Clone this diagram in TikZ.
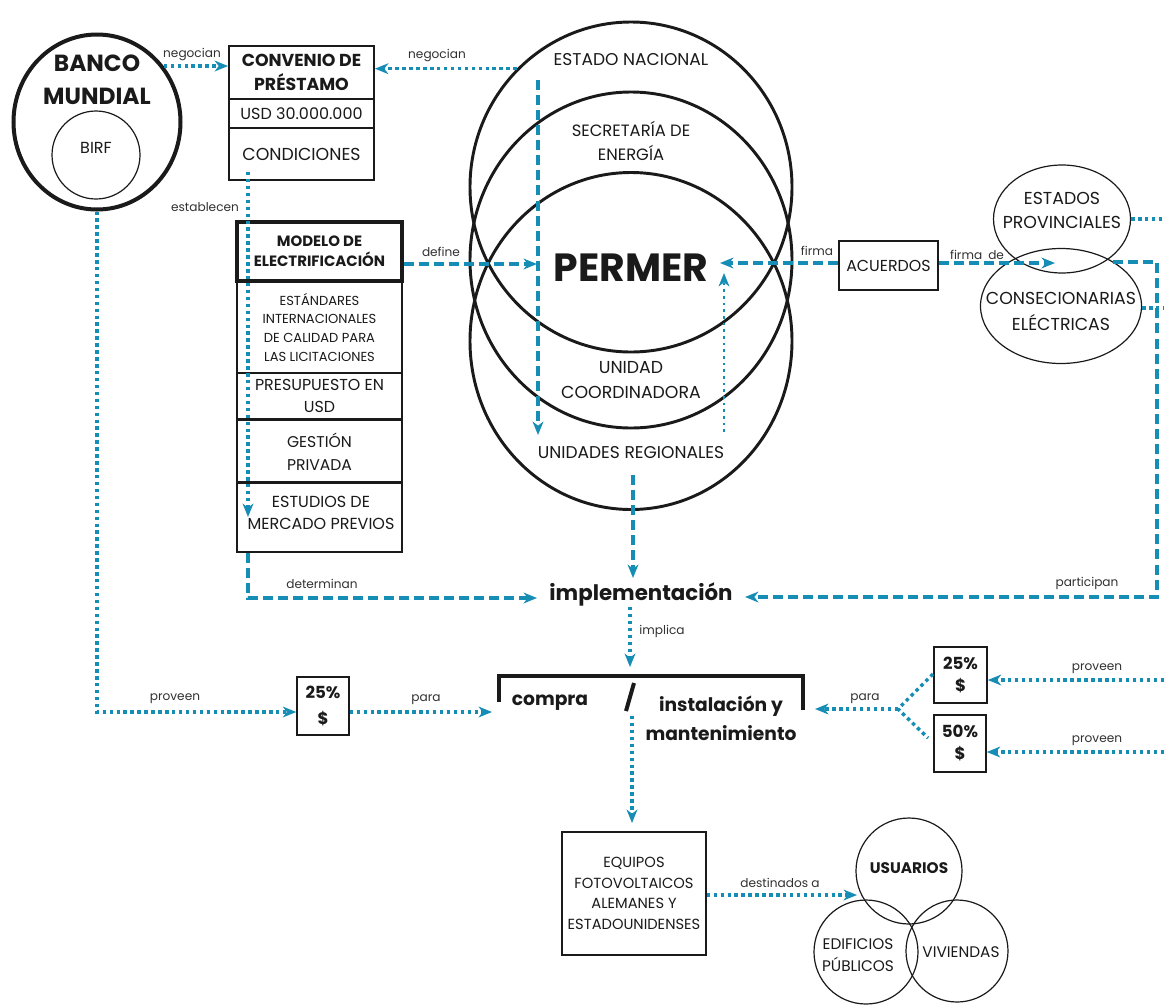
\documentclass[tikz,border=0pt]{standalone}
\usepackage{fontspec}
\setmainfont{Poppins}
\usetikzlibrary{arrows.meta,shapes.geometric}
\definecolor{conn}{HTML}{168DB4}
\definecolor{ink}{HTML}{1A1A1A}
\newcommand{\fsz}[2]{\fontsize{#1pt}{#2pt}\selectfont}
\tikzset{
 every node/.style={text=ink, inner sep=0pt},
 box/.style={draw=ink, line width=1.1pt, align=center, inner sep=0pt, minimum width=123.75pt},
 cbox/.style={draw=ink, line width=1.1pt, align=center, inner sep=0pt, minimum width=108.75pt},
 pbox/.style={draw=ink, line width=1.1pt, align=center, inner sep=0pt, font=\fsz{12}{18}\bfseries},
 lbl/.style={font=\fsz{9.1}{10}, text=ink!90},
 txt/.style={align=center, font=\fsz{12.8}{18}},
 bigell/.style={ellipse, draw=ink, line width=2.2pt, minimum width=241.5pt},
 thinell/.style={ellipse, draw=ink, line width=0.9pt},
 thincirc/.style={circle, draw=ink, line width=0.9pt},
 dotl/.style={draw=conn, line width=2.6pt, dash pattern=on 2.6pt off 2.6pt},
 finedot/.style={draw=conn, line width=2pt, dash pattern=on 2pt off 3pt},
 dashl/.style={draw=conn, line width=2.8pt, dash pattern=on 7.5pt off 3.8pt},
 arr/.style={-{Stealth[length=10pt,width=8pt,inset=3pt]}},
}
\begin{document}
\begin{tikzpicture}[x=0.75pt,y=-0.75pt]
\fill[white] (0,0) rectangle (1164,1004);
\useasboundingbox (0,0) rectangle (1164,1004);

% ---------- Banco Mundial
\node[ellipse, draw=ink, line width=3pt, minimum width=125.25pt, minimum height=131.25pt] (banco) at (97,122) {};
\node[align=center, font=\fsz{17.5}{24.75}\bfseries] (bancoT) at (97,80) {BANCO\\MUNDIAL};
\node[thincirc, minimum size=66pt] (birf) at (96,155) {};
\node[font=\fsz{12}{13}] (birfT) at (96,148) {BIRF};

% ---------- Convenio
\node[cbox, line width=1.4pt, minimum height=39.75pt, font=\fsz{13}{18}\bfseries] (conv1) at (301.5,72.5) {CONVENIO DE\\PRÉSTAMO};
\node[cbox, line width=1.4pt, minimum height=21.75pt, font=\fsz{12}{13}] (conv2) at (301.5,113.5) {USD 30.000.000};
\node[cbox, line width=1.4pt, minimum height=39pt, font=\fsz{13}{14}] (conv3) at (301.5,154) {CONDICIONES};

% ---------- Modelo stack
\node[box, line width=2.3pt, minimum height=44.25pt, font=\fsz{11.2}{15}\bfseries] (m1) at (319.5,251.5) {MODELO DE\\ELECTRIFICACIÓN};
\node[box, minimum height=69pt, font=\fsz{9.8}{14}] (m2) at (319.5,327) {ESTÁNDARES\\INTERNACIONALES\\DE CALIDAD PARA\\LAS LICITACIONES};
\node[box, minimum height=34.5pt, font=\fsz{11.9}{16.5}] (m3) at (319.5,396) {PRESUPUESTO EN\\USD};
\node[box, minimum height=47.25pt, font=\fsz{11.7}{17}] (m4) at (319.5,452) {GESTIÓN\\PRIVADA};
\node[box, minimum height=52.5pt] (m5) at (319.5,517) {};
\node[align=center, font=\fsz{12}{16.5}] (m5T) at (321,513) {ESTUDIOS DE\\MERCADO PREVIOS};

% ---------- Big ellipses
\node[bigell, minimum height=247.5pt] (A) at (631,187) {};
\node[bigell, minimum height=252pt] (B) at (631,260) {};
\node[bigell, minimum height=252.75pt] (C) at (631,341) {};
\node[txt] (estT) at (631,60) {ESTADO NACIONAL};
\node[txt, font=\fsz{12.3}{18}] (secT) at (631,141) {SECRETARÍA DE\\ENERGÍA};
\node[font=\fsz{29.5}{32}\bfseries] (permer) at (631,268) {PERMER};
\node[txt, font=\fsz{13}{18.75}] (ucT) at (631,380) {UNIDAD\\COORDINADORA};
\node[txt] (urT) at (631,453) {UNIDADES REGIONALES};

% ---------- Acuerdos and provincial actors
\node[pbox, font=\fsz{11.9}{13}, minimum width=74.25pt, minimum height=36.75pt] (acu) at (888.5,265.5) {ACUERDOS};
\node[thinell, minimum width=102.75pt, minimum height=81pt] (prov) at (1062,219) {};
\node[txt, font=\fsz{13}{18}] (provT) at (1062,210) {ESTADOS\\PROVINCIALES};
\node[thinell, minimum width=120.75pt, minimum height=86.25pt] (conc) at (1061,306) {};
\node[txt, font=\fsz{13}{19.5}] (concT) at (1061,311) {CONSECIONARIAS\\ELÉCTRICAS};

% ---------- implementation
\node[font=\fsz{16}{18}\bfseries] (impl) at (641,594) {implementación};
\node[font=\fsz{14}{17}\bfseries] (compra) at (550,703) {compra};
\node[align=center, font=\fsz{14}{21.75}\bfseries] (inst) at (721,718) {instalación y\\mantenimiento};
\draw[ink, line width=3pt] (499,702) -- (499,676) -- (803,676) -- (803,710);
\draw[ink, line width=3pt] (634,683) -- (626,711);

% ---------- money boxes
\node[pbox, minimum width=39pt, minimum height=43.5pt, font=\fsz{12.5}{19.5}\bfseries] (p25L) at (323,706) {25\%\\\$};
\node[pbox, minimum width=39.75pt, minimum height=42pt, font=\fsz{12.5}{16.5}\bfseries] (p25R) at (960.5,675) {25\%\\\$};
\node[pbox, minimum width=39pt, minimum height=42.75pt, font=\fsz{12.5}{16.5}\bfseries] (p50R) at (960,743.5) {50\%\\\$};

% ---------- Equipos and users
\node[cbox, minimum width=108pt, minimum height=92.25pt, font=\fsz{11}{15.5}] (equ) at (634,893.5) {EQUIPOS\\FOTOVOLTAICOS\\ALEMANES Y\\ESTADOUNIDENSES};
\node[thincirc, minimum size=79.5pt] (usu) at (909,871) {};
\node[thincirc, minimum size=78pt] (edi) at (866,952) {};
\node[thincirc, minimum size=76.5pt] (viv) at (957,951) {};
\node[font=\fsz{11.5}{13}\bfseries] (usuT) at (909,868) {USUARIOS};
\node[align=center, font=\fsz{11.5}{16.5}] (ediT) at (858,955) {EDIFICIOS\\PÚBLICOS};
\node[font=\fsz{11.5}{13}] (vivT) at (961,952) {VIVIENDAS};

% ---------- coordinates for free ends
\coordinate (estS) at (248,172);
\coordinate (estE) at (248,517);
\coordinate (implL) at (537,598);
\coordinate (implR) at (745,597);
\coordinate (defE) at (537,264);
\coordinate (vdS) at (538,80);
\coordinate (vdE) at (538,435);
\coordinate (vuS) at (724,432);
\coordinate (vuE) at (724,273);
\coordinate (firE) at (720,263);
\coordinate (firdE) at (1055,263);
\coordinate (parS) at (1113,262);
\coordinate (parC) at (1157,262);
\coordinate (urS) at (633,475);
\coordinate (urE) at (633,578);
\coordinate (impS) at (630,607);
\coordinate (impE) at (630,667);
\coordinate (bkL) at (97,712);
\coordinate (paraE) at (492,712);
\coordinate (fork) at (898,709);
\coordinate (paraRE) at (815,709);
\coordinate (up25) at (933,674);
\coordinate (dn50) at (928,738);
\coordinate (edge1) at (1164,680);
\coordinate (edge2) at (1164,752);
\coordinate (edgeP) at (1164,219);
\coordinate (edgeC) at (1164,308);
\coordinate (eqS) at (632,716);
\coordinate (eqE) at (632,823);
\coordinate (desE) at (857,895);

% ---------- connectors
\draw[dotl, arr] (banco.40) -- (banco.40 -| conv1.west);
\node[lbl] (l1) at (192,55) {negocian};
\draw[dotl, arr] (A.134) -- (A.134 -| conv1.east);
\node[lbl] (l2) at (437,56) {negocian};
\draw[dotl, arr] (estS) -- (estE);
\node[lbl] (l3) at (205,207) {establecen};
\draw[dashl, arr] (m5.south -| estS) -- (estS |- implL) -- (implL);
\node[lbl] (l4) at (322,584) {determinan};
\draw[dashl, arr] (defE -| m1.east) -- (defE);
\node[lbl] (l5) at (441,252) {define};
\draw[dashl, arr] (vdS) -- (vdE);
\draw[finedot, arr] (vuS) -- (vuE);
\draw[dashl, arr] (firE -| acu.west) -- (firE);
\node[lbl] (l6) at (817,251) {firma};
\draw[dashl, arr] (firdE -| acu.east) -- (firdE);
\node[lbl] (l7) at (977,255) {firma\enspace de};
\draw[dashl, arr] (parS) -- (parC) -- (parC |- implR) -- (implR);
\node[lbl] (l8) at (1087,583) {participan};
\draw[dashl, arr] (urS) -- (urE);
\draw[dotl, arr] (impS) -- (impE);
\node[lbl] (l9) at (662,631) {implica};
\draw[dotl, arr] (banco.south) -- (bkL) -- (bkL -| p25L.west);
\node[lbl] (l10) at (175,699) {proveen};
\draw[dotl, arr] (bkL -| p25L.east) -- (paraE);
\node[lbl] (l11) at (426,700) {para};
\draw[dotl] (up25) -- (fork) -- (dn50);
\draw[dotl, arr] (fork) -- (paraRE);
\node[lbl] (l12) at (865,699) {para};
\draw[dotl, arr] (edge1) -- (edge1 -| p25R.east);
\node[lbl] (l13) at (1097,669) {proveen};
\draw[dotl, arr] (edge2) -- (edge2 -| p50R.east);
\node[lbl] (l14) at (1097,741) {proveen};
\draw[dotl, arr] (eqS) -- (eqE);
\draw[dotl, arr] (desE -| equ.east) -- (desE);
\node[lbl] (l15) at (780,883) {destinados a};
\draw[dotl] (prov.east) -- (edgeP);
\draw[dotl] (conc.east |- edgeC) -- (edgeC);
\end{tikzpicture}
\end{document}
